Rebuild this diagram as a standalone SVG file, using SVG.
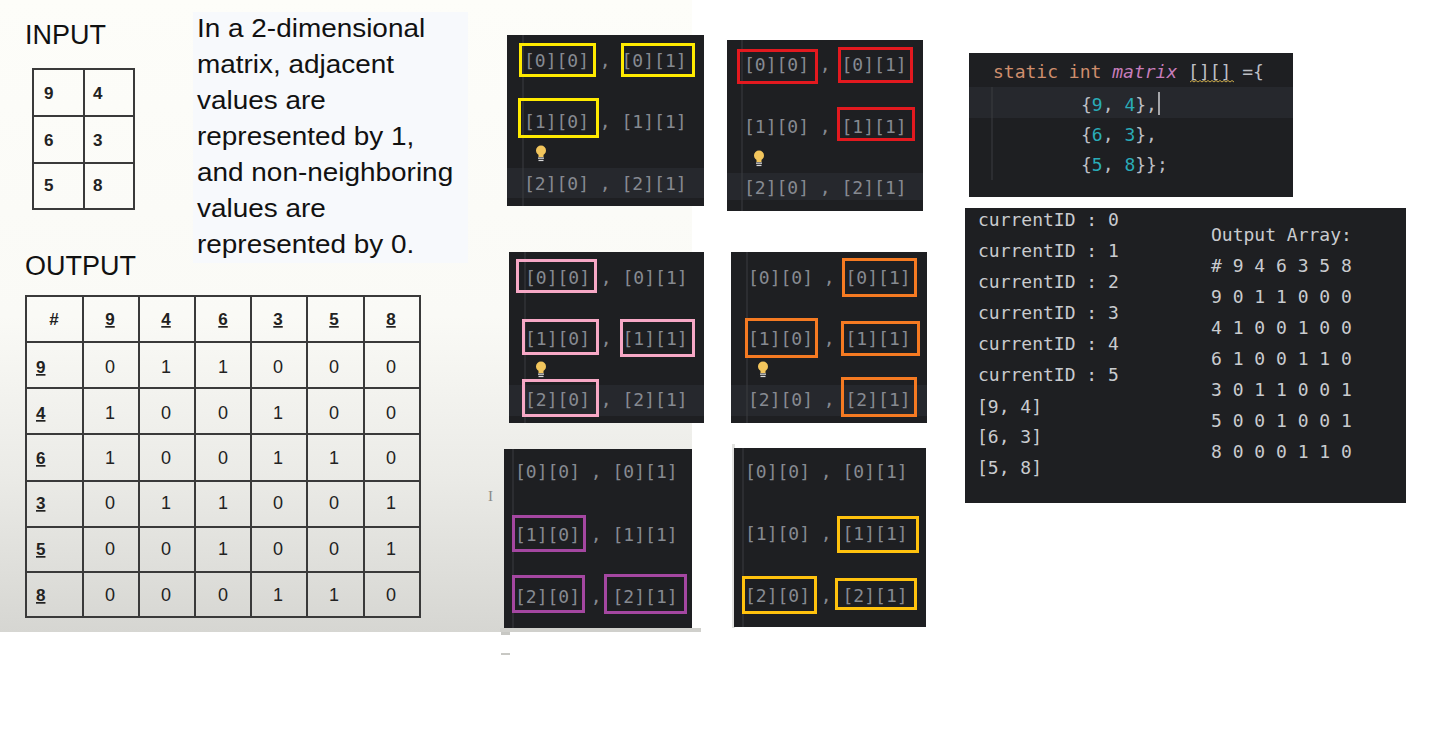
<svg xmlns="http://www.w3.org/2000/svg" width="1446" height="734" viewBox="0 0 1446 734">
<defs>
<linearGradient id="bgGrad" x1="0" y1="0" x2="0" y2="1">
<stop offset="0" stop-color="#fdfdf9"/>
<stop offset="0.5" stop-color="#fafaf6"/>
<stop offset="0.75" stop-color="#ebebe7"/>
<stop offset="1" stop-color="#d6d6d2"/>
</linearGradient>
<g id="bulb">
<circle cx="0" cy="-2.5" r="5" fill="#f2c55c"/>
<rect x="-2.5" y="1" width="5" height="3" fill="#f2c55c"/>
<rect x="-3" y="4.5" width="6" height="1.3" fill="#d8d8d8"/>
<rect x="-2.5" y="6.8" width="5" height="1.3" fill="#d8d8d8"/>
</g>
</defs>
<style>
.sans{font-family:"Liberation Sans",Arial,sans-serif;fill:#111}
.big{font-size:27px}
.para{font-size:25px}
.cell{font-family:"Liberation Sans",Arial,sans-serif;font-size:18px;fill:#222;text-anchor:middle}
.hdr{font-family:"Liberation Sans",Arial,sans-serif;font-size:17px;font-weight:bold;fill:#222;text-decoration:underline}
.grid{fill:none;stroke:#3a3a3a;stroke-width:2}
.panel{fill:#1e1f22}
.band{fill:#26282d}
.guide{stroke:#3a3c41;stroke-width:1}
.mono{font-family:"DejaVu Sans Mono","Liberation Mono",monospace;font-size:18px}
.idx{fill:#868a91}
.out{fill:#c9cbcf}
.box{fill:none;stroke-width:3}
.yellow{stroke:#ffea00}
.red{stroke:#e3191f}
.pink{stroke:#f7a8c6}
.orange{stroke:#f57a22}
.purple{stroke:#a447a1}
.gold{stroke:#ffc20e}
.kw{fill:#cf8e6d}
.fn{fill:#c77dbb;font-style:italic}
.pl{fill:#bcbec4}
.num{fill:#2aacb8}
</style>
<rect x="0" y="0" width="1446" height="734" fill="#ffffff"/>
<rect x="0" y="0" width="692" height="632" fill="url(#bgGrad)"/>
<rect x="500" y="628" width="201" height="4" fill="#d0d0cc"/>
<rect x="501" y="632" width="9" height="3" fill="#c8c8c4"/>
<rect x="501" y="653" width="9" height="2" fill="#c8c8c4"/>
<rect x="732" y="444" width="3" height="184" fill="#e2e2e0"/>
<text x="488" y="501" font-family="Liberation Serif,serif" font-size="15" fill="#8a8a88">I</text>

<g id="input-label"><text class="sans big" x="25" y="44">INPUT</text></g>
<g id="input-grid">
<rect x="33" y="69" width="101" height="140" class="grid"/>
<line x1="84" y1="69" x2="84" y2="209" class="grid"/>
<line x1="33" y1="116" x2="134" y2="116" class="grid"/>
<line x1="33" y1="163" x2="134" y2="163" class="grid"/>
<g font-family="Liberation Sans,Arial,sans-serif" font-size="17" font-weight="bold" fill="#222">
<text x="44" y="99">9</text><text x="93" y="99">4</text>
<text x="44" y="146">6</text><text x="93" y="146">3</text>
<text x="44" y="191">5</text><text x="93" y="191">8</text>
</g>
</g>
<g id="description">
<rect x="193" y="12" width="275" height="251" fill="#f7f9fc"/>
<g transform="translate(197,0) scale(1.117,1)">
<text class="sans para" x="0" y="37">In a 2-dimensional</text>
<text class="sans para" x="0" y="73">matrix, adjacent</text>
<text class="sans para" x="0" y="109">values are</text>
<text class="sans para" x="0" y="145">represented by 1,</text>
<text class="sans para" x="0" y="181">and non-neighboring</text>
<text class="sans para" x="0" y="217">values are</text>
<text class="sans para" x="0" y="253">represented by 0.</text>
</g>
</g>
<g id="output-label"><text class="sans big" x="25" y="275">OUTPUT</text></g>
<g id="output-table">
<rect x="26" y="296" width="394" height="321" class="grid"/>
<line x1="83" y1="296" x2="83" y2="617" class="grid"/>
<line x1="139" y1="296" x2="139" y2="617" class="grid"/>
<line x1="195" y1="296" x2="195" y2="617" class="grid"/>
<line x1="251" y1="296" x2="251" y2="617" class="grid"/>
<line x1="307" y1="296" x2="307" y2="617" class="grid"/>
<line x1="364" y1="296" x2="364" y2="617" class="grid"/>
<line x1="26" y1="342" x2="420" y2="342" class="grid"/>
<line x1="26" y1="388" x2="420" y2="388" class="grid"/>
<line x1="26" y1="434" x2="420" y2="434" class="grid"/>
<line x1="26" y1="481" x2="420" y2="481" class="grid"/>
<line x1="26" y1="527" x2="420" y2="527" class="grid"/>
<line x1="26" y1="572" x2="420" y2="572" class="grid"/>
<text x="54" y="325" font-family="Liberation Sans,Arial,sans-serif" font-size="17" font-weight="bold" fill="#222" text-anchor="middle">#</text>
<text class="hdr" x="110" y="325" text-anchor="middle">9</text>
<text class="hdr" x="166" y="325" text-anchor="middle">4</text>
<text class="hdr" x="223" y="325" text-anchor="middle">6</text>
<text class="hdr" x="278" y="325" text-anchor="middle">3</text>
<text class="hdr" x="334" y="325" text-anchor="middle">5</text>
<text class="hdr" x="391" y="325" text-anchor="middle">8</text>
<text class="hdr" x="36" y="373">9</text>
<text class="hdr" x="36" y="419">4</text>
<text class="hdr" x="36" y="464">6</text>
<text class="hdr" x="36" y="509">3</text>
<text class="hdr" x="36" y="555">5</text>
<text class="hdr" x="36" y="601">8</text>
<text class="cell" x="110" y="373">0</text><text class="cell" x="166" y="373">1</text><text class="cell" x="223" y="373">1</text><text class="cell" x="278" y="373">0</text><text class="cell" x="334" y="373">0</text><text class="cell" x="391" y="373">0</text>
<text class="cell" x="110" y="419">1</text><text class="cell" x="166" y="419">0</text><text class="cell" x="223" y="419">0</text><text class="cell" x="278" y="419">1</text><text class="cell" x="334" y="419">0</text><text class="cell" x="391" y="419">0</text>
<text class="cell" x="110" y="464">1</text><text class="cell" x="166" y="464">0</text><text class="cell" x="223" y="464">0</text><text class="cell" x="278" y="464">1</text><text class="cell" x="334" y="464">1</text><text class="cell" x="391" y="464">0</text>
<text class="cell" x="110" y="509">0</text><text class="cell" x="166" y="509">1</text><text class="cell" x="223" y="509">1</text><text class="cell" x="278" y="509">0</text><text class="cell" x="334" y="509">0</text><text class="cell" x="391" y="509">1</text>
<text class="cell" x="110" y="555">0</text><text class="cell" x="166" y="555">0</text><text class="cell" x="223" y="555">1</text><text class="cell" x="278" y="555">0</text><text class="cell" x="334" y="555">0</text><text class="cell" x="391" y="555">1</text>
<text class="cell" x="110" y="601">0</text><text class="cell" x="166" y="601">0</text><text class="cell" x="223" y="601">0</text><text class="cell" x="278" y="601">1</text><text class="cell" x="334" y="601">1</text><text class="cell" x="391" y="601">0</text>
</g>

<g id="panel-yellow">
<rect class="panel" x="507" y="35" width="197" height="171"/>
<rect class="band" x="507" y="168" width="197" height="30"/>
<line class="guide" x1="523" y1="35" x2="523" y2="206"/>
<text class="mono idx" x="524" y="67">[0][0] , [0][1]</text>
<text class="mono idx" x="524" y="128">[1][0] , [1][1]</text>
<text class="mono idx" x="524" y="190">[2][0] , [2][1]</text>
<use href="#bulb" x="541" y="153"/>
<rect class="box yellow" x="520.5" y="44.5" width="74" height="31"/>
<rect class="box yellow" x="622.5" y="44.5" width="71" height="31"/>
<rect class="box yellow" x="519.5" y="99.5" width="78" height="37"/>
</g>
<g id="panel-red">
<rect class="panel" x="727" y="40" width="196" height="171"/>
<rect class="band" x="727" y="173" width="196" height="27"/>
<line class="guide" x1="742" y1="40" x2="742" y2="211"/>
<text class="mono idx" x="744" y="71">[0][0] , [0][1]</text>
<text class="mono idx" x="744" y="133">[1][0] , [1][1]</text>
<text class="mono idx" x="744" y="194">[2][0] , [2][1]</text>
<use href="#bulb" x="759" y="158"/>
<rect class="box red" x="738.5" y="50.5" width="78" height="32"/>
<rect class="box red" x="839.5" y="48.5" width="72" height="33"/>
<rect class="box red" x="838.5" y="108.5" width="75" height="31"/>
</g>
<g id="panel-pink">
<rect class="panel" x="509" y="252" width="195" height="171"/>
<rect class="band" x="509" y="385" width="195" height="31"/>
<line class="guide" x1="525" y1="252" x2="525" y2="423"/>
<text class="mono idx" x="525" y="284">[0][0] , [0][1]</text>
<text class="mono idx" x="525" y="345">[1][0] , [1][1]</text>
<text class="mono idx" x="525" y="406">[2][0] , [2][1]</text>
<use href="#bulb" x="541" y="369"/>
<rect class="box pink" x="517.5" y="260.5" width="78" height="31"/>
<rect class="box pink" x="523.5" y="320.5" width="74" height="33"/>
<rect class="box pink" x="621.5" y="320.5" width="72" height="35"/>
<rect class="box pink" x="523.5" y="380.5" width="74" height="35"/>
</g>
<g id="panel-orange">
<rect class="panel" x="731" y="252" width="196" height="171"/>
<rect class="band" x="731" y="385" width="196" height="31"/>
<line class="guide" x1="747" y1="252" x2="747" y2="423"/>
<text class="mono idx" x="748" y="284">[0][0] , [0][1]</text>
<text class="mono idx" x="748" y="345">[1][0] , [1][1]</text>
<text class="mono idx" x="748" y="406">[2][0] , [2][1]</text>
<use href="#bulb" x="763" y="369"/>
<rect class="box orange" x="843.5" y="259.5" width="72" height="36"/>
<rect class="box orange" x="746.5" y="319.5" width="70" height="37"/>
<rect class="box orange" x="842.5" y="322.5" width="76" height="32"/>
<rect class="box orange" x="842.5" y="378.5" width="73" height="37"/>
</g>
<g id="panel-purple">
<rect class="panel" x="504" y="449" width="188" height="179"/>
<line class="guide" x1="513" y1="449" x2="513" y2="628"/>
<text class="mono idx" x="515" y="478">[0][0] , [0][1]</text>
<text class="mono idx" x="515" y="541">[1][0] , [1][1]</text>
<text class="mono idx" x="515" y="603">[2][0] , [2][1]</text>
<rect class="box purple" x="513.5" y="516.5" width="71" height="34"/>
<rect class="box purple" x="513.5" y="576.5" width="70" height="35"/>
<rect class="box purple" x="605.5" y="575.5" width="80" height="37"/>
</g>
<g id="panel-gold">
<rect class="panel" x="734" y="448" width="192" height="179"/>
<line class="guide" x1="743" y1="448" x2="743" y2="627"/>
<text class="mono idx" x="745" y="478">[0][0] , [0][1]</text>
<text class="mono idx" x="745" y="540">[1][0] , [1][1]</text>
<text class="mono idx" x="745" y="602">[2][0] , [2][1]</text>
<rect class="box gold" x="838.5" y="517.5" width="79" height="34"/>
<rect class="box gold" x="743.5" y="577.5" width="72" height="35"/>
<rect class="box gold" x="836.5" y="579.5" width="79" height="29"/>
</g>

<g id="code-panel">
<rect class="panel" x="969" y="53" width="324" height="144"/>
<rect class="band" x="969" y="87" width="324" height="31"/>
<line class="guide" x1="992" y1="87" x2="992" y2="180"/>
<text class="mono" x="993" y="78"><tspan class="kw">static int </tspan><tspan class="fn">matrix</tspan><tspan class="pl"> [][] ={</tspan></text>
<path d="M1190 82 l2 -1.5 l2 1.5 l2 -1.5 l2 1.5 l2 -1.5 l2 1.5 l2 -1.5 l2 1.5 l2 -1.5 l2 1.5 l2 -1.5 l2 1.5 l2 -1.5 l2 1.5 l2 -1.5 l2 1.5 l2 -1.5 l2 1.5 l2 -1.5 l2 1.5 l2 -1.5 l2 1.5" fill="none" stroke="#c9a94a" stroke-width="1"/>
<text class="mono" x="1081" y="111"><tspan class="pl">{</tspan><tspan class="num">9</tspan><tspan class="pl">, </tspan><tspan class="num">4</tspan><tspan class="pl">},</tspan></text>
<line x1="1159" y1="92" x2="1159" y2="115" stroke="#d0d1d4" stroke-width="1.5"/>
<text class="mono" x="1081" y="141"><tspan class="pl">{</tspan><tspan class="num">6</tspan><tspan class="pl">, </tspan><tspan class="num">3</tspan><tspan class="pl">},</tspan></text>
<text class="mono" x="1081" y="171"><tspan class="pl">{</tspan><tspan class="num">5</tspan><tspan class="pl">, </tspan><tspan class="num">8</tspan><tspan class="pl">}};</tspan></text>
</g>

<g id="console-panel">
<rect class="panel" x="965" y="208" width="441" height="295"/>
<text class="mono out" x="978" y="226">currentID : 0</text>
<text class="mono out" x="978" y="257">currentID : 1</text>
<text class="mono out" x="978" y="288">currentID : 2</text>
<text class="mono out" x="978" y="319">currentID : 3</text>
<text class="mono out" x="978" y="350">currentID : 4</text>
<text class="mono out" x="978" y="381">currentID : 5</text>
<text class="mono out" x="977" y="413">[9, 4]</text>
<text class="mono out" x="977" y="443">[6, 3]</text>
<text class="mono out" x="977" y="474">[5, 8]</text>
<text class="mono out" x="1211" y="241">Output Array:</text>
<text class="mono out" x="1211" y="272"># 9 4 6 3 5 8</text>
<text class="mono out" x="1211" y="303">9 0 1 1 0 0 0</text>
<text class="mono out" x="1211" y="334">4 1 0 0 1 0 0</text>
<text class="mono out" x="1211" y="365">6 1 0 0 1 1 0</text>
<text class="mono out" x="1211" y="396">3 0 1 1 0 0 1</text>
<text class="mono out" x="1211" y="427">5 0 0 1 0 0 1</text>
<text class="mono out" x="1211" y="458">8 0 0 0 1 1 0</text>
</g>
</svg>
